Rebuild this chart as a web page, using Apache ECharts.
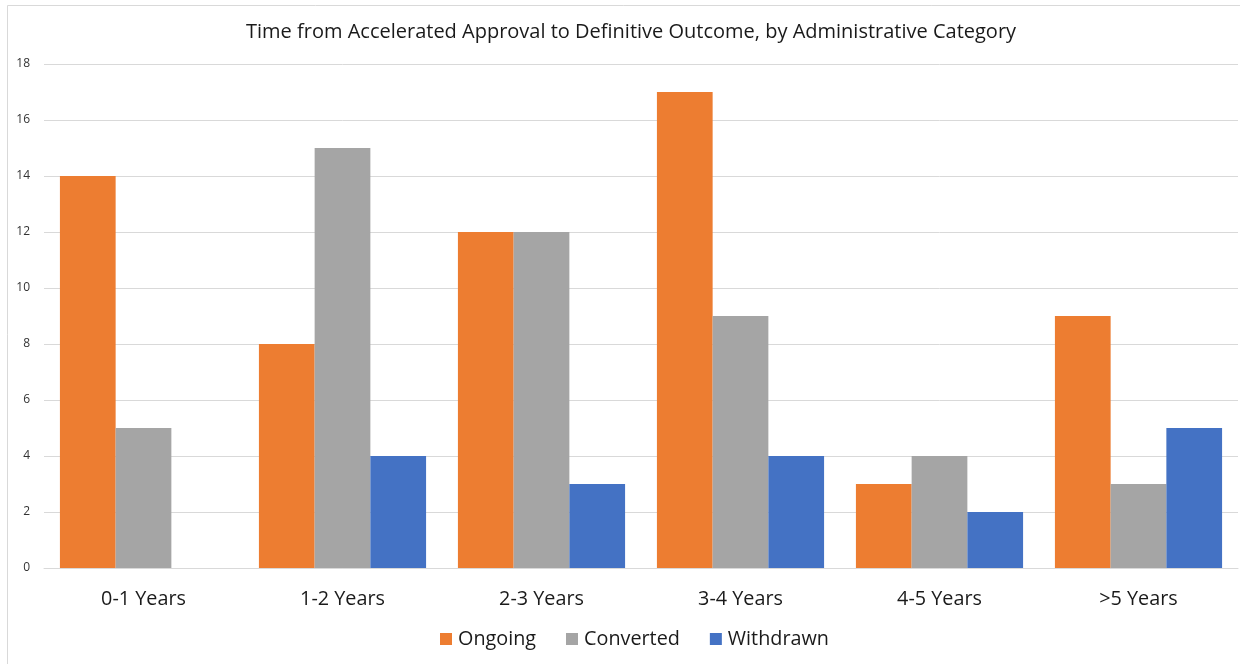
<!DOCTYPE html>
<html>
<head>
<meta charset="utf-8">
<script src="https://cdn.jsdelivr.net/npm/echarts@6/dist/echarts.min.js"></script>
<style>
  html, body { margin: 0; padding: 0; background: #ffffff; }
  #chart { width: 1249px; height: 664px; }
</style>
</head>
<body>
<div id="chart"></div>
<script>
// Accelerated approvals grouped by time to definitive outcome
const categories = ['0-1 Years', '1-2 Years', '2-3 Years', '3-4 Years', '4-5 Years', '>5 Years'];
const ongoing   = [14, 8, 12, 17, 3, 9];
const converted = [5, 15, 12, 9, 4, 3];
const withdrawn = [0, 4, 3, 4, 2, 5];
const yTicks = { min: 0, max: 18, interval: 2 };

const fontFamily = '"Open Sans", "Liberation Sans", sans-serif';

const chart = echarts.init(document.getElementById('chart'), null, { renderer: 'canvas' });

chart.setOption({
  backgroundColor: '#ffffff',
  animation: false,
  title: {
    text: 'Time from Accelerated Approval to Definitive Outcome, by Administrative Category',
    left: 241,
    top: 17,
    textStyle: { fontFamily, fontSize: 20, fontWeight: 'normal', color: '#1a1a1a' }
  },
  graphic: [
    { type: 'line', shape: { x1: 7.5, y1: 5.5, x2: 7.5, y2: 664 }, style: { stroke: '#d9d9d9', lineWidth: 1 } },
    { type: 'line', shape: { x1: 7.5, y1: 5.5, x2: 1240, y2: 5.5 }, style: { stroke: '#d9d9d9', lineWidth: 1 } }
  ],
  legend: {
    bottom: 10,
    left: 435,
    itemWidth: 12,
    itemHeight: 12,
    itemGap: 30,
    icon: 'rect',
    textStyle: { fontFamily, fontSize: 19.8, color: '#1a1a1a', padding: [0, 0, 0, 1] },
    data: ['Ongoing', 'Converted', 'Withdrawn']
  },
  grid: { left: 44, right: 11, top: 64, bottom: 96, containLabel: false },
  xAxis: {
    type: 'category',
    data: categories,
    axisLine: { show: true, lineStyle: { color: '#d9d9d9', width: 1 } },
    axisTick: { show: false },
    axisLabel: { fontFamily, fontSize: 19.8, color: '#1a1a1a', margin: 21 }
  },
  yAxis: {
    type: 'value',
    min: yTicks.min,
    max: yTicks.max,
    interval: yTicks.interval,
    axisLine: { show: false },
    axisTick: { show: false },
    splitLine: { lineStyle: { color: '#d9d9d9', width: 1 } },
    axisLabel: { fontFamily, fontSize: 12, color: '#333333', margin: 14 }
  },
  series: [
    { name: 'Ongoing',   type: 'bar', data: ongoing,   itemStyle: { color: '#ED7D31' }, barGap: '0%', barCategoryGap: '16%' },
    { name: 'Converted', type: 'bar', data: converted, itemStyle: { color: '#A5A5A5' }, barGap: '0%', barCategoryGap: '16%' },
    { name: 'Withdrawn', type: 'bar', data: withdrawn, itemStyle: { color: '#4472C4' }, barGap: '0%', barCategoryGap: '16%' }
  ]
});
</script>
</body>
</html>
